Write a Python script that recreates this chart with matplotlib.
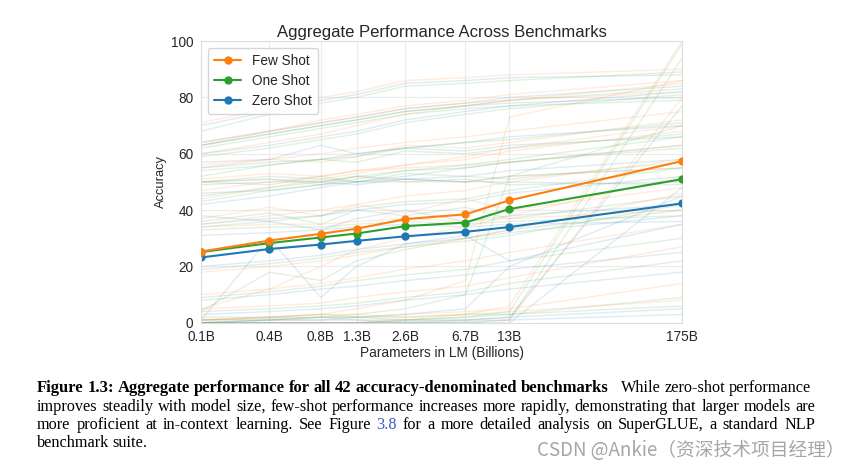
import matplotlib
matplotlib.use("Agg")
import matplotlib.pyplot as plt
import seaborn as sns
from matplotlib.ticker import NullLocator

sns.set_style("whitegrid")
plt.rcParams['font.family'] = ['Liberation Sans', 'DejaVu Sans']

# model sizes (billions) and tick labels
params = [0.125, 0.35, 0.76, 1.3, 2.7, 6.7, 13, 175]
tick_labels = ["0.1B", "0.4B", "0.8B", "1.3B", "2.6B", "6.7B", "13B", "175B"]

# aggregate curves
few_shot = [25.3, 29.2, 31.6, 33.4, 36.8, 38.5, 43.5, 57.4]
one_shot = [25.1, 28.3, 30.3, 31.7, 34.3, 35.6, 40.4, 51.0]
zero_shot = [23.2, 26.2, 27.8, 29.1, 30.7, 32.3, 34.0, 42.4]

# per-benchmark curves (zero, one, few) read roughly off the faint background
bench_zero = [
    [70, 75, 79, 81, 85, 86, 87, 88],
    [64, 68, 71, 73, 76, 78, 80, 84],
    [60, 63, 66, 68, 72, 75, 77, 82],
    [55, 57, 58, 60, 62, 64, 66, 70],
    [50, 51, 50, 52, 51, 50, 52, 55],
    [49, 50, 50, 49, 51, 50, 50, 49],
    [42, 45, 48, 50, 52, 55, 57, 63],
    [35, 37, 38, 40, 42, 43, 46, 52],
    [38, 36, 33, 37, 40, 36, 38, 42],
    [31, 32, 33, 34, 35, 34, 35, 36],
    [20, 22, 24, 26, 28, 30, 32, 38],
    [8, 10, 12, 13, 15, 17, 19, 25],
    [3, 4, 5, 6, 8, 10, 12, 18],
    [0, 0, 0, 0, 0.5, 1, 2, 77],
    [0, 0, 0, 0, 0, 0, 0, 48],
    [1, 1, 1, 1, 1, 1, 2, 5],
    [0, 1, 1, 2, 3, 5, 20, 45],
    [1, 30, 9, 20, 28, 31, 22, 35],
    [46, 47, 49, 50, 51, 52, 54, 58],
    [57, 58, 63, 60, 62, 61, 63, 66],
    [63, 67, 70, 72, 75, 77, 78, 80],
    [0, 1, 2, 1, 0, 0, 1, 3],
]
bench_one = [
    [68, 74, 78, 80, 84, 85, 86, 89],
    [63, 67, 70, 72, 75, 77, 79, 83],
    [59, 62, 65, 67, 71, 74, 76, 81],
    [54, 56, 58, 59, 62, 64, 65, 71],
    [50, 52, 51, 50, 53, 52, 51, 57],
    [50, 49, 52, 50, 50, 51, 49, 50],
    [43, 47, 49, 51, 54, 56, 58, 66],
    [34, 36, 38, 41, 43, 44, 47, 55],
    [36, 39, 35, 40, 38, 41, 37, 45],
    [33, 34, 34, 35, 36, 35, 36, 38],
    [19, 21, 23, 25, 27, 29, 31, 42],
    [9, 11, 13, 15, 17, 19, 22, 30],
    [4, 5, 6, 7, 9, 11, 14, 22],
    [0, 0, 0, 0, 1, 2, 4, 99],
    [0, 0, 0, 0, 0, 0.5, 1, 94],
    [1, 1.5, 2, 2, 2, 3, 3, 9],
    [0, 1, 2, 3, 5, 10, 52, 70],
    [4, 18, 15, 22, 26, 30, 33, 40],
    [45, 48, 50, 52, 54, 55, 57, 62],
    [52, 56, 58, 57, 61, 60, 62, 67],
    [62, 66, 69, 71, 74, 76, 77, 79],
    [2, 2, 3, 2, 1, 2, 3, 6],
]
bench_few = [
    [71, 76, 80, 82, 86, 87, 88, 90],
    [64, 68, 72, 74, 77, 79, 81, 86],
    [60, 64, 67, 70, 74, 77, 79, 85],
    [56, 58, 60, 62, 64, 66, 68, 75],
    [51, 53, 52, 54, 55, 56, 57, 63],
    [50, 51, 49, 52, 50, 50, 52, 55],
    [44, 48, 51, 53, 56, 59, 62, 70],
    [35, 38, 40, 42, 45, 47, 50, 58],
    [37, 41, 38, 42, 39, 44, 40, 48],
    [34, 35, 35, 36, 37, 36, 37, 40],
    [18, 20, 22, 24, 27, 30, 33, 46],
    [10, 12, 14, 16, 19, 22, 25, 35],
    [5, 6, 7, 9, 11, 13, 16, 27],
    [0, 0, 0, 0, 1, 3, 6, 100],
    [0, 0, 0, 0, 0, 1, 1, 80],
    [1, 2, 2, 2, 3, 4, 5, 14],
    [1, 2, 3, 5, 8, 15, 73, 86],
    [5, 12, 20, 26, 30, 34, 38, 52],
    [47, 50, 52, 54, 56, 58, 61, 68],
    [55, 58, 57, 59, 63, 62, 64, 72],
    [63, 68, 71, 73, 76, 78, 79, 82],
    [1, 2, 3, 3, 2, 3, 4, 8],
]

c_few, c_one, c_zero = "#ff7f0e", "#2ca02c", "#1f77b4"

fig = plt.figure(figsize=(8.57, 4.72), dpi=100)
ax = fig.add_axes([0.2345, 0.316, 0.5615, 0.597])

for rows, col in ((bench_zero, c_zero), (bench_one, c_one), (bench_few, c_few)):
    for r in rows:
        ax.plot(params, r, color=col, alpha=0.14, linewidth=1.0, zorder=1)

ax.plot(params, few_shot, color=c_few, marker="o", markersize=5, linewidth=1.5, label="Few Shot", zorder=4)
ax.plot(params, one_shot, color=c_one, marker="o", markersize=5, linewidth=1.5, label="One Shot", zorder=3)
ax.plot(params, zero_shot, color=c_zero, marker="o", markersize=5, linewidth=1.5, label="Zero Shot", zorder=2)

ax.set_xscale("log")
ax.set_xlim(params[0], params[-1])
ax.set_ylim(0, 100)
ax.set_xticks(params)
ax.set_xticklabels(tick_labels)
ax.xaxis.set_minor_locator(NullLocator())
ax.set_yticks([0, 20, 40, 60, 80, 100])
ax.tick_params(labelsize=9.8, colors="#262626", pad=2)
ax.grid(True, color="#ececec", linewidth=0.8)
for s in ax.spines.values():
    s.set_color("#dddddd")

ax.set_title("Aggregate Performance Across Benchmarks", fontsize=12, color="#262626", pad=3)
ax.set_xlabel("Parameters in LM (Billions)", fontsize=9.8, color="#262626", labelpad=1)
ax.set_ylabel("Accuracy", fontsize=9.3, color="#262626", labelpad=3)
ax.legend(loc="upper left", fontsize=9.8, frameon=True, borderpad=0.45, handlelength=2.0,
          labelspacing=0.45)

# caption, justified line by line
lines = [
    [("Figure 1.3: Aggregate performance for all 42 accuracy-denominated benchmarks", "bold", "black"),
     ("  ", "normal", "black"),
     ("While zero-shot performance", "normal", "black")],
    [("improves steadily with model size, few-shot performance increases more rapidly, demonstrating that larger models are", "normal", "black")],
    [("more proficient at in-context learning. See Figure", "normal", "black"),
     ("3.8", "normal", "#3b5bc6"),
     ("for a more detailed analysis on SuperGLUE, a standard NLP", "normal", "black")],
    [("benchmark suite.", "normal", "black")],
]
x0, x1 = 37 / 857, 815 / 857
y_lines = [388, 407, 425, 443]
renderer = fig.canvas.get_renderer()
for li, (segs, ypx) in enumerate(zip(lines, y_lines)):
    words = []
    for text, weight, col in segs:
        if text.strip() == "":
            words.append(("", weight, col, "gap"))
        else:
            for w in text.split(" "):
                words.append((w, weight, col, "word"))
    objs = []
    for w, weight, col, kind in words:
        size = 12.0 if weight == "bold" else 11.7
        t = fig.text(0, 1 - ypx / 472, w, fontsize=size, family="Liberation Serif",
                     weight=weight, color=col, va="center", ha="left")
        objs.append((t, kind))
    widths = [t.get_window_extent(renderer).width / fig.bbox.width if kind == "word" else 0
              for t, kind in objs]
    n_gaps = len(objs) - 1
    extra = sum(2 for _, k in objs if k == "gap")
    if li < len(lines) - 1:
        space = (x1 - x0 - sum(widths)) / (n_gaps + extra)
    else:
        space = 3.0 / 857
    x = x0
    for (t, kind), w in zip(objs, widths):
        if kind == "gap":
            x += space * 2
            continue
        t.set_x(x)
        x += w + space

fig.text(845 / 857, 1 - 450 / 472, "CSDN @Ankie（资深技术项目经理）", fontsize=13.5,
         family=["Noto Sans CJK SC", "DejaVu Sans"], color="#a6a6a6", ha="right", va="center")

fig.savefig("out.png", dpi=100)
